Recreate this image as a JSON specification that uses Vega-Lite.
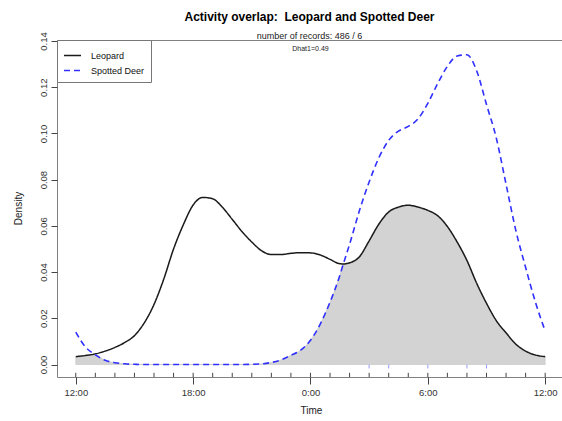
{
  "$schema": "https://vega.github.io/schema/vega-lite/v6.json",
  "width": 505,
  "height": 337,
  "autosize": {"type": "none"},
  "padding": {"left": 57, "top": 40, "right": 0, "bottom": 44},
  "title": {
    "text": "Activity overlap: \u00a0Leopard and Spotted Deer",
    "subtitle": "number of records: 486 / 6",
    "anchor": "middle",
    "font": "Liberation Sans",
    "fontSize": 12,
    "fontWeight": "bold",
    "color": "#000",
    "subtitleFont": "Liberation Sans",
    "subtitleFontSize": 9,
    "subtitleColor": "#222",
    "subtitlePadding": 8,
    "offset": -10
  },
  "datasets": {
    "dens": [
      {"h": 0, "Leopard": 0.0034, "Spotted Deer": 0.0140, "overlap": 0.0034},
      {"h": 0.5, "Leopard": 0.0039, "Spotted Deer": 0.0075, "overlap": 0.0039},
      {"h": 0.95, "Leopard": 0.0045, "Spotted Deer": 0.0045, "overlap": 0.0045},
      {"h": 1.5, "Leopard": 0.0058, "Spotted Deer": 0.0018, "overlap": 0.0018},
      {"h": 2.0, "Leopard": 0.0074, "Spotted Deer": 0.0008, "overlap": 0.0008},
      {"h": 2.5, "Leopard": 0.0095, "Spotted Deer": 0.0003, "overlap": 0.0003},
      {"h": 3.0, "Leopard": 0.0125, "Spotted Deer": 0.0001, "overlap": 0.0001},
      {"h": 3.5, "Leopard": 0.0180, "Spotted Deer": 0.0, "overlap": 0.0},
      {"h": 4.0, "Leopard": 0.0260, "Spotted Deer": 0.0, "overlap": 0.0},
      {"h": 4.5, "Leopard": 0.0370, "Spotted Deer": 0.0, "overlap": 0.0},
      {"h": 5.0, "Leopard": 0.0500, "Spotted Deer": 0.0, "overlap": 0.0},
      {"h": 5.5, "Leopard": 0.0605, "Spotted Deer": 0.0, "overlap": 0.0},
      {"h": 6.0, "Leopard": 0.0690, "Spotted Deer": 0.0, "overlap": 0.0},
      {"h": 6.5, "Leopard": 0.0723, "Spotted Deer": 0.0, "overlap": 0.0},
      {"h": 7.0, "Leopard": 0.0717, "Spotted Deer": 0.0, "overlap": 0.0},
      {"h": 7.5, "Leopard": 0.0680, "Spotted Deer": 0.0, "overlap": 0.0},
      {"h": 8.0, "Leopard": 0.0628, "Spotted Deer": 0.0, "overlap": 0.0},
      {"h": 8.5, "Leopard": 0.0575, "Spotted Deer": 0.0, "overlap": 0.0},
      {"h": 9.0, "Leopard": 0.0530, "Spotted Deer": 0.0001, "overlap": 0.0001},
      {"h": 9.5, "Leopard": 0.0492, "Spotted Deer": 0.0003, "overlap": 0.0003},
      {"h": 10.0, "Leopard": 0.0476, "Spotted Deer": 0.0009, "overlap": 0.0009},
      {"h": 10.5, "Leopard": 0.0476, "Spotted Deer": 0.0020, "overlap": 0.0020},
      {"h": 11.0, "Leopard": 0.0481, "Spotted Deer": 0.0040, "overlap": 0.0040},
      {"h": 11.5, "Leopard": 0.0484, "Spotted Deer": 0.0062, "overlap": 0.0062},
      {"h": 12.0, "Leopard": 0.0483, "Spotted Deer": 0.0105, "overlap": 0.0105},
      {"h": 12.5, "Leopard": 0.0474, "Spotted Deer": 0.0175, "overlap": 0.0175},
      {"h": 13.0, "Leopard": 0.0455, "Spotted Deer": 0.0270, "overlap": 0.0270},
      {"h": 13.5, "Leopard": 0.0436, "Spotted Deer": 0.0385, "overlap": 0.0385},
      {"h": 13.68, "Leopard": 0.0435, "Spotted Deer": 0.0435, "overlap": 0.0435},
      {"h": 14.0, "Leopard": 0.0440, "Spotted Deer": 0.0520, "overlap": 0.0440},
      {"h": 14.5, "Leopard": 0.0466, "Spotted Deer": 0.0665, "overlap": 0.0466},
      {"h": 15.0, "Leopard": 0.0535, "Spotted Deer": 0.0790, "overlap": 0.0535},
      {"h": 15.5, "Leopard": 0.0608, "Spotted Deer": 0.0895, "overlap": 0.0608},
      {"h": 16.0, "Leopard": 0.0660, "Spotted Deer": 0.0970, "overlap": 0.0660},
      {"h": 16.5, "Leopard": 0.0681, "Spotted Deer": 0.1010, "overlap": 0.0681},
      {"h": 17.0, "Leopard": 0.0689, "Spotted Deer": 0.1030, "overlap": 0.0689},
      {"h": 17.5, "Leopard": 0.0681, "Spotted Deer": 0.1063, "overlap": 0.0681},
      {"h": 18.0, "Leopard": 0.0667, "Spotted Deer": 0.1130, "overlap": 0.0667},
      {"h": 18.5, "Leopard": 0.0644, "Spotted Deer": 0.1215, "overlap": 0.0644},
      {"h": 19.0, "Leopard": 0.0597, "Spotted Deer": 0.1290, "overlap": 0.0597},
      {"h": 19.5, "Leopard": 0.0530, "Spotted Deer": 0.1335, "overlap": 0.0530},
      {"h": 20.0, "Leopard": 0.0450, "Spotted Deer": 0.1340, "overlap": 0.0450},
      {"h": 20.5, "Leopard": 0.0351, "Spotted Deer": 0.1270, "overlap": 0.0351},
      {"h": 21.0, "Leopard": 0.0265, "Spotted Deer": 0.1125, "overlap": 0.0265},
      {"h": 21.5, "Leopard": 0.0190, "Spotted Deer": 0.0980, "overlap": 0.0190},
      {"h": 22.0, "Leopard": 0.0137, "Spotted Deer": 0.0780, "overlap": 0.0137},
      {"h": 22.5, "Leopard": 0.0088, "Spotted Deer": 0.0580, "overlap": 0.0088},
      {"h": 23.0, "Leopard": 0.0058, "Spotted Deer": 0.0420, "overlap": 0.0058},
      {"h": 23.5, "Leopard": 0.0041, "Spotted Deer": 0.0270, "overlap": 0.0041},
      {"h": 24.0, "Leopard": 0.0034, "Spotted Deer": 0.0145, "overlap": 0.0034}
    ],
    "rug": [{"h": 15}, {"h": 16}, {"h": 18}, {"h": 20}, {"h": 21}],
    "hours": [
      {"h": 0}, {"h": 1}, {"h": 2}, {"h": 3}, {"h": 4}, {"h": 5}, {"h": 6}, {"h": 7},
      {"h": 8}, {"h": 9}, {"h": 10}, {"h": 11}, {"h": 12}, {"h": 13}, {"h": 14}, {"h": 15},
      {"h": 16}, {"h": 17}, {"h": 18}, {"h": 19}, {"h": 20}, {"h": 21}, {"h": 22}, {"h": 23}, {"h": 24}
    ],
    "note": [{"h": 12.0, "d": 0.1365, "label": "Dhat1=0.49"}]
  },
  "layer": [
    {
      "data": {"name": "dens"},
      "mark": {"type": "area", "interpolate": "monotone", "color": "#D3D3D3", "stroke": "#BDBDBD", "strokeWidth": 0.5},
      "encoding": {
        "x": {
          "field": "h", "type": "quantitative",
          "scale": {"domain": [-0.96, 24.86], "nice": false, "zero": false},
          "axis": {
            "values": [0, 6, 12, 18, 24],
            "labelExpr": "datum.value == 0 || datum.value == 24 ? '12:00' : datum.value == 6 ? '18:00' : datum.value == 12 ? '0:00' : '6:00'",
            "title": "Time",
            "titleX": 254, "titleY": 33, "titleAlign": "center", "titleBaseline": "middle",
            "titleFont": "Liberation Sans", "titleFontSize": 10, "titleFontWeight": "normal", "titleColor": "#222",
            "labelFont": "Liberation Sans", "labelFontSize": 9.5, "labelColor": "#333", "labelPadding": 3,
            "labelFlush": false, "labelOverlap": false,
            "tickSize": 7, "tickColor": "#444", "grid": false, "domain": false
          }
        },
        "y": {
          "field": "overlap", "type": "quantitative",
          "scale": {"domain": [-0.0054, 0.1404], "nice": false, "zero": false},
          "axis": {
            "values": [0, 0.02, 0.04, 0.06, 0.08, 0.1, 0.12, 0.14],
            "format": ".2f",
            "title": "Density",
            "titleX": -39, "titleY": 168, "titleAlign": "center", "titleBaseline": "middle", "titleAngle": -90,
            "titleFont": "Liberation Sans", "titleFontSize": 10, "titleFontWeight": "normal", "titleColor": "#222",
            "labelAngle": -90, "labelAlign": "center", "labelBaseline": "bottom",
            "labelFont": "Liberation Sans", "labelFontSize": 9.5, "labelColor": "#333", "labelPadding": 3,
            "labelFlush": false, "labelOverlap": false,
            "tickSize": 6, "tickColor": "#444", "grid": false, "domain": false
          }
        },
        "y2": {"datum": 0}
      }
    },
    {
      "data": {"name": "hours"},
      "mark": {"type": "rule", "color": "#444", "strokeWidth": 1},
      "encoding": {
        "x": {"field": "h", "type": "quantitative"},
        "y": {"datum": -0.0054},
        "y2": {"datum": -0.0036}
      }
    },
    {
      "data": {"name": "rug"},
      "mark": {"type": "rule", "color": "#9999FF", "strokeWidth": 1},
      "encoding": {
        "x": {"field": "h", "type": "quantitative"},
        "y": {"datum": 0},
        "y2": {"datum": -0.0017}
      }
    },
    {
      "data": {"name": "dens"},
      "transform": [{"fold": ["Leopard", "Spotted Deer"], "as": ["species", "density"]}],
      "mark": {"type": "line", "interpolate": "monotone"},
      "encoding": {
        "x": {"field": "h", "type": "quantitative"},
        "y": {"field": "density", "type": "quantitative"},
        "color": {
          "field": "species", "type": "nominal",
          "scale": {"domain": ["Leopard", "Spotted Deer"], "range": ["#1a1a1a", "#3030FF"]},
          "legend": {
            "orient": "none", "legendX": 0, "legendY": 0,
            "title": null,
            "symbolType": "stroke", "symbolSize": 289, "symbolStrokeWidth": 1.6,
            "labelFont": "Liberation Sans", "labelFontSize": 9, "labelColor": "#111", "labelOffset": 9,
            "padding": 6, "rowPadding": -6,
            "strokeColor": "#777", "fillColor": "white"
          }
        },
        "strokeDash": {
          "field": "species", "type": "nominal",
          "scale": {"domain": ["Leopard", "Spotted Deer"], "range": [[1, 0], [6, 4]]},
          "legend": null
        },
        "strokeWidth": {
          "field": "species", "type": "nominal",
          "scale": {"domain": ["Leopard", "Spotted Deer"], "range": [1.5, 1.6]},
          "legend": null
        }
      }
    },
    {
      "data": {"name": "note"},
      "mark": {"type": "text", "font": "Liberation Sans", "fontSize": 7, "color": "#222", "align": "center", "baseline": "middle"},
      "encoding": {
        "x": {"field": "h", "type": "quantitative"},
        "y": {"field": "d", "type": "quantitative"},
        "text": {"field": "label"}
      }
    }
  ],
  "config": {
    "view": {"stroke": "#808080", "strokeWidth": 1},
    "background": "white"
  }
}
